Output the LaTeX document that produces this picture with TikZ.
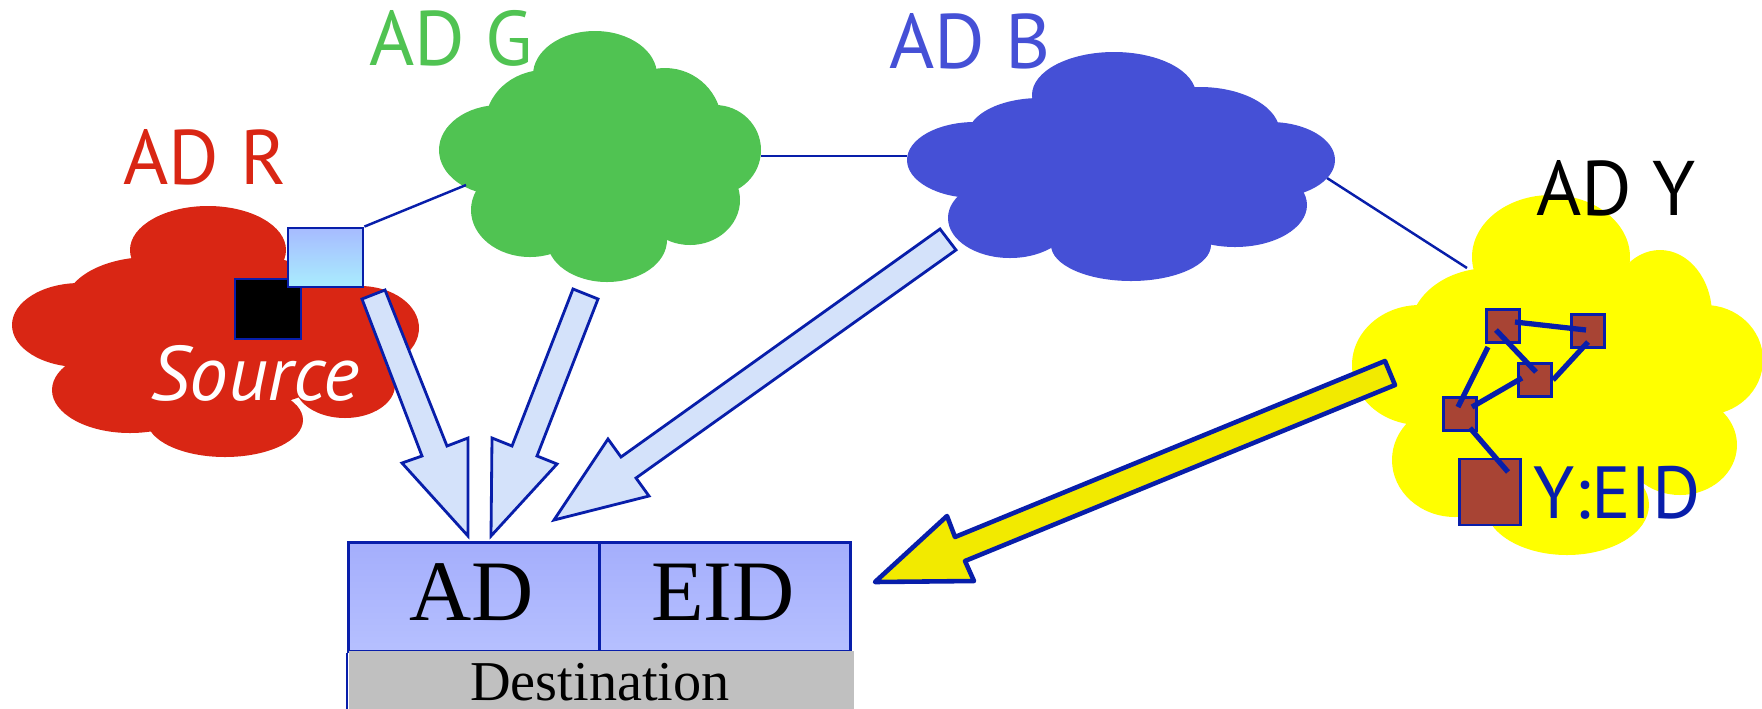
\documentclass[tikz,border=0pt]{standalone}
\usepackage{fontspec}
\setmainfont{Liberation Serif}
\newfontfamily\labelfont{PT Sans}
\usetikzlibrary{calc}

\definecolor{cloudR}{RGB}{217,38,20}
\definecolor{cloudG}{RGB}{80,195,82}
\definecolor{cloudB}{RGB}{69,80,214}
\definecolor{cloudY}{RGB}{255,255,0}
\definecolor{wire}{RGB}{8,30,170}
\definecolor{arrowfill}{RGB}{212,226,250}
\definecolor{arrowyellow}{RGB}{242,234,0}
\definecolor{hostbrown}{RGB}{168,68,52}
\definecolor{rtrtop}{RGB}{167,187,255}
\definecolor{rtrbot}{RGB}{169,237,254}
\definecolor{fieldtop}{RGB}{164,174,252}
\definecolor{fieldbot}{RGB}{182,192,255}
\definecolor{destgray}{RGB}{192,192,192}

\tikzset{
  edge/.style={draw=wire, line width=0.7pt},
  link/.style={draw=wire, line width=1.5pt},
  blockarrow/.style={draw=wire, fill=arrowfill, line width=0.8pt, line join=miter},
  bigarrow/.style={draw=wire, fill=arrowyellow, line width=1.3pt, line join=round},
  router/.style={draw=wire, line width=0.8pt, top color=rtrtop, bottom color=rtrbot,
    minimum width=0.75cm, minimum height=0.59cm, inner sep=0pt},
  hostbox/.style={draw=wire, line width=0.8pt, fill=black,
    minimum width=0.66cm, minimum height=0.60cm, inner sep=0pt},
  host/.style={draw=wire, line width=0.7pt, fill=hostbrown,
    minimum size=0.33cm, inner sep=0pt},
  field/.style={draw=wire, line width=0.8pt, top color=fieldtop, bottom color=fieldbot,
    minimum width=2.51cm, minimum height=1.09cm, inner sep=0pt},
  adlabel/.style={font=\labelfont\fontsize{22}{26}\selectfont, anchor=base, inner sep=0pt},
}

\begin{document}
\begin{tikzpicture}[x=0.01cm, y=-0.01cm]
\useasboundingbox (0,0) rectangle (1762,708);

% attachment points on the cloud outlines
\coordinate (Gwest) at (466,185);
\coordinate (Geast) at (761,156);
\coordinate (Bwest) at (907,156);
\coordinate (Beast) at (1327,178);
\coordinate (Ywest) at (1467,268);

% inter-domain links
\draw[edge] (Geast) -- (Bwest);
\draw[edge] (Beast) -- (Ywest);

% AD R
\begin{scope}[fill=cloudR]
  \fill (215,331) ellipse [x radius=150, y radius=80];
  \fill (208,250) ellipse [x radius=78, y radius=44];
  \fill (150,305) ellipse [x radius=85, y radius=48];
  \fill (80,325) ellipse [x radius=68, y radius=42];
  \fill (130,390) ellipse [x radius=78, y radius=43];
  \fill (225,420) ellipse [x radius=78, y radius=37];
  \fill (345,385) ellipse [x radius=50, y radius=33];
  \fill (360,328) ellipse [x radius=59, y radius=42];
\end{scope}

% AD G
\begin{scope}[fill=cloudG]
  \fill (600,160) ellipse [x radius=115, y radius=90];
  \fill (595,75) ellipse [x radius=62, y radius=44];
  \fill (665,125) ellipse [x radius=57, y radius=57];
  \fill (715,150) ellipse [x radius=46, y radius=45];
  \fill (690,200) ellipse [x radius=50, y radius=45];
  \fill (607,240) ellipse [x radius=60, y radius=42];
  \fill (530,210) ellipse [x radius=59, y radius=47];
  \fill (500,150) ellipse [x radius=61, y radius=45];
  \fill (545,125) ellipse [x radius=60, y radius=55];
\end{scope}

% AD B
\begin{scope}[fill=cloudB]
  \fill (1120,170) ellipse [x radius=150, y radius=75];
  \fill (1114,95) ellipse [x radius=82, y radius=43];
  \fill (1200,133) ellipse [x radius=80, y radius=46];
  \fill (1270,160) ellipse [x radius=65, y radius=38];
  \fill (1235,205) ellipse [x radius=72, y radius=42];
  \fill (1131,245) ellipse [x radius=80, y radius=36];
  \fill (1010,218) ellipse [x radius=62, y radius=40];
  \fill (975,160) ellipse [x radius=68, y radius=38];
  \fill (1040,135) ellipse [x radius=72, y radius=37];
\end{scope}

% AD Y
\begin{scope}[fill=cloudY]
  \fill (1560,385) ellipse [x radius=135, y radius=120];
  \fill (1551,257) ellipse [x radius=79, y radius=62];
  \fill (1660,315) ellipse [x radius=52, y radius=65];
  \fill (1705,360) ellipse [x radius=58, y radius=55];
  \fill (1680,445) ellipse [x radius=57, y radius=50];
  \fill (1567,505) ellipse [x radius=82, y radius=50];
  \fill (1455,460) ellipse [x radius=63, y radius=57];
  \fill (1420,365) ellipse [x radius=68, y radius=60];
  \fill (1490,330) ellipse [x radius=80, y radius=62];
\end{scope}

% domain names
\node[adlabel, text=cloudR] (lblR) at (205,184) {AD R};
\node[adlabel, text=cloudG] (lblG) at (451,65) {AD G};
\node[adlabel, text=cloudB] (lblB) at (970,68) {AD B};
\node[adlabel, text=black] (lblY) at (1616,215) {AD Y};

% source host and its gateway router
\node[hostbox] (src) at (268,309) {};
\node[router] (rtr) at (325.5,257.5) {};
\draw[edge] (rtr.north east) -- (Gwest);
\node[font=\labelfont\itshape\fontsize{22}{26}\selectfont, text=white, anchor=base, inner sep=0pt]
  (srclbl) at (255,400) {Source};

% hosts inside AD Y
\node[host] (h1) at (1503,326) {};
\node[host] (h2) at (1588,331) {};
\node[host] (h3) at (1535,380) {};
\node[host] (h4) at (1460,414) {};
\node[host, minimum width=0.61cm, minimum height=0.66cm] (hd) at (1490,492) {};
\draw[link] ($(h1.center)+(12,-4)$) -- ($(h2.center)+(-2,-1)$);
\draw[link] ($(h1.center)+(-7,4)$) -- ($(h3.center)+(1,-8)$);
\draw[link] ($(h2.center)+(0,11)$) -- ($(h3.center)+(18,0)$);
\draw[link] ($(h1.center)+(-15,21)$) -- ($(h4.center)+(-2,-7)$);
\draw[link] ($(h3.center)+(-13,-2)$) -- ($(h4.center)+(12,-7)$);
\draw[link] ($(h4.center)+(10,14)$) -- ($(hd.center)+(18,-20)$);
\node[font=\labelfont\fontsize{21}{25}\selectfont, text=wire, anchor=base, inner sep=0pt]
  (yeid) at (1617,518) {Y:EID};

% destination address
\node[field, anchor=north west] (adf) at (347,541) {};
\node[field, anchor=north west] (eidf) at (598,541) {};
\draw[edge] (adf.south west) -- ++(0,58);
\node[fill=destgray, minimum width=5.05cm, minimum height=0.58cm, inner sep=0pt,
  anchor=north west] (dest) at (348,650) {};
\node[font=\fontsize{24.5}{28}\selectfont, anchor=base, inner sep=0pt] at (472,620) {AD};
\node[font=\fontsize{24.5}{28}\selectfont, anchor=base, inner sep=0pt] at (723,620) {EID};
\node[font=\fontsize{16}{19}\selectfont, anchor=base, inner sep=0pt] at (600,700) {Destination};

% routing arrows toward the AD field
\draw[blockarrow] (362,299) -- (385,290) -- (447,446) -- (468,438) -- (468,536)
  -- (402,463) -- (422,456) -- cycle;
\draw[blockarrow] (573,289) -- (598,299) -- (537,456) -- (557,464) -- (491,536)
  -- (492,438) -- (512,446) -- cycle;
\draw[blockarrow] (940,229) -- (956,250) -- (636,478) -- (649,496) -- (554,520)
  -- (608,439) -- (621,457) -- cycle;

% local delivery arrow toward the EID field
\draw[bigarrow] (1385,361) -- (1395,385) -- (965,561) -- (974,581) -- (875,582)
  -- (947,516) -- (955,537) -- cycle;
\end{tikzpicture}
\end{document}
